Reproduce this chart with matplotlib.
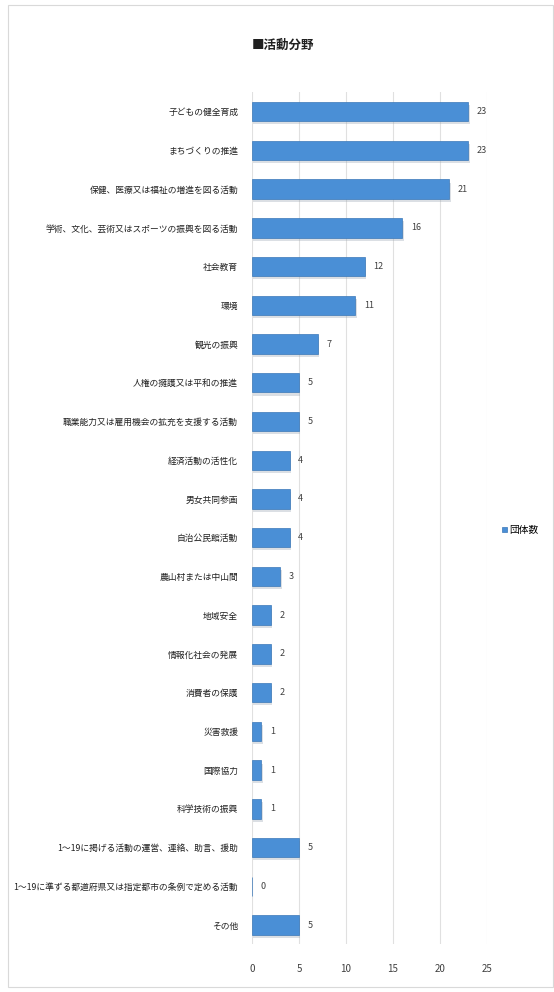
import matplotlib
matplotlib.use('Agg')
import matplotlib.pyplot as plt
from matplotlib.patches import Rectangle

plt.rcParams['font.family'] = ['Noto Sans CJK JP', 'DejaVu Sans']

# 活動分野ごとの団体数
categories = [
    '子どもの健全育成',
    'まちづくりの推進',
    '保健、医療又は福祉の増進を図る活動',
    '学術、文化、芸術又はスポーツの振興を図る活動',
    '社会教育',
    '環境',
    '観光の振興',
    '人権の擁護又は平和の推進',
    '職業能力又は雇用機会の拡充を支援する活動',
    '経済活動の活性化',
    '男女共同参画',
    '自治公民館活動',
    '農山村または中山間',
    '地域安全',
    '情報化社会の発展',
    '消費者の保護',
    '災害救援',
    '国際協力',
    '科学技術の振興',
    '1～19に掲げる活動の運営、連絡、助言、援助',
    '1～19に準ずる都道府県又は指定都市の条例で定める活動',
    'その他',
]
counts = [23, 23, 21, 16, 12, 11, 7, 5, 5, 4, 4, 4, 3, 2, 2, 2, 1, 1, 1, 5, 0, 5]
x_ticks = [0, 5, 10, 15, 20, 25]
series_name = '団体数'

bar_color = '#4A8FD6'
text_color = '#404040'

fig = plt.figure(figsize=(5.54, 9.92), dpi=100)
fig.patch.set_facecolor('white')

# 外枠
fig.patches.append(Rectangle((0.014, 0.005), 0.985, 0.99, transform=fig.transFigure,
                             fill=False, edgecolor='#d9d9d9', linewidth=0.8))

ax = fig.add_axes([0.455, 0.048, 0.424, 0.859])
y = list(range(len(categories)))

# 影
ax.barh([v + 0.08 for v in y], counts, height=0.5, left=0.15, color='#9aa6b2', alpha=0.35, zorder=2)
bars = ax.barh(y, counts, height=0.5, color=bar_color, edgecolor='#3a78b8', linewidth=0.5,
               zorder=3, label=series_name)

for yi, v in zip(y, counts):
    ax.text(v + 0.9, yi, str(v), va='center', ha='left', fontsize=6.5, color=text_color)

ax.set_xlim(0, 25)
ax.set_ylim(len(categories) - 0.5, -0.5)
ax.set_yticks(y)
ax.set_yticklabels(categories, fontsize=6.3, color='#202020')
ax.set_xticks(x_ticks)
ax.set_xticklabels([str(t) for t in x_ticks], fontsize=7, color=text_color)
ax.tick_params(axis='both', length=0)
ax.tick_params(axis='y', pad=10)
ax.tick_params(axis='x', pad=14)
ax.xaxis.grid(True, color='#e0e0e0', linewidth=0.8, zorder=0)
ax.set_axisbelow(True)
for s in ax.spines.values():
    s.set_visible(False)

fig.text(0.51, 0.954, '■活動分野', ha='center', va='center', fontsize=9, fontweight='bold',
         color='#202020')

fig.legend(handles=[bars], labels=[series_name], loc='center left',
           bbox_to_anchor=(0.89, 0.466), frameon=False, fontsize=7,
           handlelength=0.5, handleheight=0.5, handletextpad=0.3)

fig.savefig('out.png', dpi=100)
